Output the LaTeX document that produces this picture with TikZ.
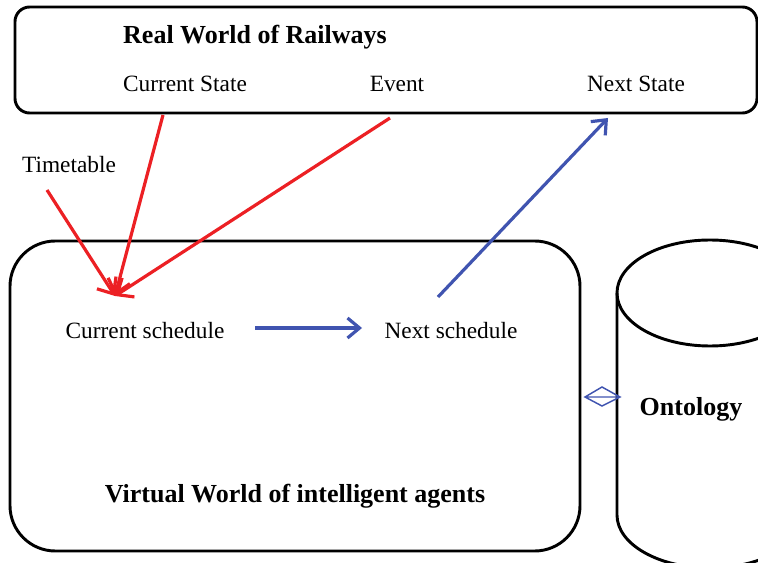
\documentclass[tikz,border=0pt]{standalone}
\usepackage{fontspec}
\setmainfont{Liberation Serif}
\usetikzlibrary{arrows.meta}
\definecolor{arrred}{RGB}{236,32,36}
\definecolor{arrblue}{RGB}{64,84,176}

\begin{document}
\begin{tikzpicture}[x=0.75pt,y=-0.75pt,
    box/.style={draw,line width=2.2pt},
    lbl/.style={font=\fontsize{17.5}{20}\selectfont},
    ttl/.style={font=\fontsize{19.5}{22}\selectfont\bfseries},
    redarr/.style={draw=arrred,line width=2.4pt,-{Straight Barb[length=10pt,width=17pt]}},
    bluearr/.style={draw=arrblue,line width=2.4pt,-{Straight Barb[length=9pt,width=15pt]}},
    linkarr/.style={draw=arrblue,line width=1.1pt,line join=miter}]
    \useasboundingbox (0,0) rectangle (758,563);
    \clip (0,0) rectangle (758,563);

    % boxes
    \draw[box,rounded corners=11pt] (15,7) rectangle (757,113);
    \draw[box,rounded corners=34pt] (10,241) rectangle (580,551);
    % ontology store
    \draw[box,fill=white] (617,293) -- (617,515) arc[start angle=180,end angle=0,x radius=93,y radius=53]
        -- (803,293);
    \draw[box] (710,293) ellipse[x radius=93,y radius=53];

    \node[ttl] (real) at (255,37) {Real World of Railways};
    \node[lbl] (cstate) at (185,84) {Current State};
    \node[lbl] (event) at (397,84) {Event};
    \node[lbl] (nstate) at (636,84) {Next State};
    \node[lbl] (timetable) at (69,165) {Timetable};
    \node[lbl] (csched) at (145,331) {Current schedule};
    \node[lbl] (nsched) at (451,331) {Next schedule};
    \node[ttl] (virtual) at (295,496) {Virtual World of intelligent agents};
    \node[ttl] (onto) at (691,409) {Ontology};

    \coordinate (cs-out) at (163,115);
    \coordinate (ev-out) at (390,118);
    \coordinate (tt-out) at (47,190);
    \coordinate (cs-in) at (115,296);
    \coordinate (ns-in) at (608,118);
    \coordinate (sched-out) at (438,297);
    \coordinate (cs-east) at (255,328);
    \coordinate (ns-west) at (362,328);
    \coordinate (vw-edge) at (585,397);
    \coordinate (onto-edge) at (620,397);

    \draw[redarr] (cs-out) -- (cs-in);
    \draw[redarr] (ev-out) -- (cs-in);
    \draw[redarr] (tt-out) -- (cs-in);
    \draw[bluearr] (cs-east) -- (ns-west);
    \draw[bluearr] (sched-out) -- (ns-in);
    \draw[linkarr] (vw-edge) -- (onto-edge)
        (vw-edge) -- ++(17,-10) -- (onto-edge) -- ++(-18,9) -- cycle;
\end{tikzpicture}
\end{document}
